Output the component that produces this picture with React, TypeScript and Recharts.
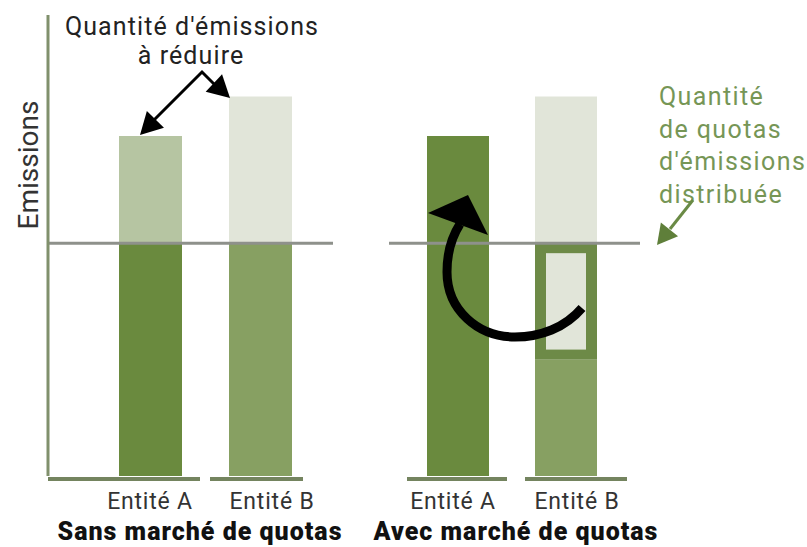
import React from 'react';
import { BarChart, Bar, XAxis, YAxis, Cell, ReferenceLine } from 'recharts';

const categories = ['Entité A', 'Entité B'];
const quotaLevel = 100;
// sans marché
const sansWithinQuota = [100, 100];
const sansToReduce = [46, 63];
// avec marché
const avecEmitted = [146, 50];
const avecQuotaSold = [0, 50];
const avecReduced = [0, 63];

const DARK = '#6a8a3e';
const MEDIUM = '#87a062';
const LIGHT = '#b6c5a2';
const PALE = '#e1e5d9';
const BOX = '#6d8a47';
const AXIS = '#74845f';
const QUOTA_LINE = '#8e918b';
const FONT = 'Roboto, "DejaVu Sans", sans-serif';

const sansData = categories.map((name, i) => ({ name, base: sansWithinQuota[i], excess: sansToReduce[i] }));
const avecData = categories.map((name, i) => ({
  name,
  emitted: avecEmitted[i],
  sold: avecQuotaSold[i],
  reduced: avecReduced[i],
}));

const Y_DOMAIN: [number, number] = [0, 198];

function makeTick(segs: number[][], labelDx: number[]) {
  return (props: any) => {
    const { x, y, payload, index } = props;
    const s = segs[index] || [-50, 50];
    return (
      <g>
        <line x1={x + s[0]} x2={x + s[1]} y1={y + 1} y2={y + 1} stroke={AXIS} strokeWidth={4} />
        <text x={x + (labelDx[index] || 0)} y={y + 31} textAnchor="middle" fontFamily={FONT} fontSize={23} letterSpacing={0.8} fill="#333">
          {payload.value}
        </text>
      </g>
    );
  };
}

const boxShape = (props: any) => {
  const { x, y, width, height } = props;
  if (!height || height <= 0) return <g />;
  const inset = 10;
  return (
    <g>
      <rect x={x} y={y} width={width} height={height} fill={BOX} />
      <rect x={x + inset + 1} y={y + inset} width={width - 2 * inset - 2} height={height - 2 * inset} fill={PALE} />
    </g>
  );
};

function arrowHead(tip: number[], from: number[], len: number, half: number) {
  const dx = tip[0] - from[0];
  const dy = tip[1] - from[1];
  const d = Math.sqrt(dx * dx + dy * dy);
  const ux = dx / d;
  const uy = dy / d;
  const bx = tip[0] - ux * len;
  const by = tip[1] - uy * len;
  return `${tip[0]},${tip[1]} ${bx - uy * half},${by + ux * half} ${bx + uy * half},${by - ux * half}`;
}

function Overlay() {
  return (
    <svg width={807} height={547} style={{ position: 'absolute', left: 0, top: 0, pointerEvents: 'none' }}>
      <text x={28} y={165} transform="rotate(-90 28 165)" textAnchor="middle" dominantBaseline="central" fontFamily={FONT} fontSize={28} fill="#333">
        Emissions
      </text>
      <text x={192} y={35} textAnchor="middle" fontFamily={FONT} fontSize={25} letterSpacing={1.1} fill="#222">
        Quantité d'émissions
      </text>
      <text x={191} y={64} textAnchor="middle" fontFamily={FONT} fontSize={25} letterSpacing={1.1} fill="#222">
        à réduire
      </text>
      {/* flèche double vers les excédents */}
      <polyline points="152,122 202,72 218,88" fill="none" stroke="#000" strokeWidth={3} />
      <polygon points={arrowHead([140, 135], [202, 72], 22, 12)} fill="#000" />
      <polygon points={arrowHead([230, 98], [202, 72], 22, 12)} fill="#000" />

      {/* texte quotas */}
      {['Quantité', 'de quotas', "d'émissions", 'distribuée'].map((t, i) => (
        <text key={t} x={659} y={105 + i * 32.5} fontFamily={FONT} fontSize={25} letterSpacing={1.4} fill="#769656">
          {t}
        </text>
      ))}
      <line x1={693} y1={200} x2={670} y2={229} stroke="#6a8a45" strokeWidth={3} />
      <polygon points={arrowHead([657, 245], [693, 200], 20, 11)} fill="#5f7f3a" />

      {/* flèche courbe : transfert de quotas */}
      <path
        d="M 582 308 C 565 328 540 337 515 337 C 478 337 447 310 447 272 C 447 255 451 238 460 224"
        fill="none"
        stroke="#000"
        strokeWidth={9}
      />
      <polygon points="468,195 428,213 488,235" fill="#000" />

      <text x={200} y={540} textAnchor="middle" fontFamily={FONT} fontSize={25} fontWeight={900} letterSpacing={1} fill="#111">
        Sans marché de quotas
      </text>
      <text x={516} y={540} textAnchor="middle" fontFamily={FONT} fontSize={25} fontWeight={900} letterSpacing={1} fill="#111">
        Avec marché de quotas
      </text>
    </svg>
  );
}

export default function App() {
  return (
    <div style={{ position: 'absolute', left: 0, top: 0, width: 807, height: 547, background: '#fff', overflow: 'hidden' }}>
      <div style={{ position: 'absolute', left: 0, top: 0 }}>
        <BarChart width={340} height={547} data={sansData} margin={{ top: 15, right: 7, bottom: 0, left: 45 }} barSize={63}>
          <XAxis
            dataKey="name"
            axisLine={false}
            tickLine={false}
            tickSize={0}
            height={71}
            interval={0}
            padding={{ left: 47, right: 18 }}
            tick={makeTick([[-102, 50], [-50, 43]], [0, 12])}
          />
          <YAxis domain={Y_DOMAIN} width={3} tick={false} tickLine={false} axisLine={{ stroke: '#80906c', strokeWidth: 3 }} />
          <Bar dataKey="base" stackId="s" isAnimationActive={false}>
            {sansData.map((d, i) => (
              <Cell key={d.name} fill={[DARK, MEDIUM][i]} />
            ))}
          </Bar>
          <Bar dataKey="excess" stackId="s" isAnimationActive={false}>
            {sansData.map((d, i) => (
              <Cell key={d.name} fill={[LIGHT, PALE][i]} />
            ))}
          </Bar>
          <ReferenceLine y={quotaLevel} stroke={QUOTA_LINE} strokeWidth={3} />
        </BarChart>
      </div>
      <div style={{ position: 'absolute', left: 380, top: 0 }}>
        <BarChart width={270} height={547} data={avecData} margin={{ top: 15, right: 10, bottom: 0, left: 9 }} barSize={62}>
          <XAxis
            dataKey="name"
            axisLine={false}
            tickLine={false}
            tickSize={0}
            height={71}
            interval={0}
            padding={{ left: 15, right: 20 }}
            tick={makeTick([[-51, 49], [-41, 61]], [-5, 11])}
          />
          <YAxis domain={Y_DOMAIN} hide />
          <Bar dataKey="emitted" stackId="s" isAnimationActive={false}>
            {avecData.map((d, i) => (
              <Cell key={d.name} fill={[DARK, MEDIUM][i]} />
            ))}
          </Bar>
          <Bar dataKey="sold" stackId="s" isAnimationActive={false} shape={boxShape} />
          <Bar dataKey="reduced" stackId="s" isAnimationActive={false} fill={PALE} />
          <ReferenceLine y={quotaLevel} stroke={QUOTA_LINE} strokeWidth={3} />
        </BarChart>
      </div>
      <Overlay />
    </div>
  );
}
